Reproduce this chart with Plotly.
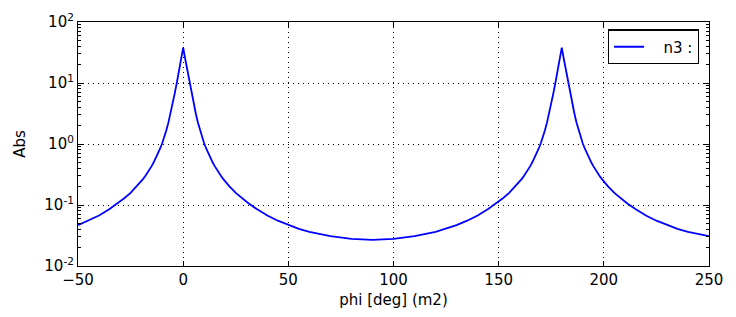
import plotly.graph_objects as go

phi_deg = [-50, -45, -40, -35, -31, -28, -25, -22,
           -20, -19, -18, -17, -16, -15, -14, -13, -12, -11, -10, -9, -8, -7, -6, -5, -4, -3, -2, -1,
           0,
           1, 2, 3, 4, 5, 6, 7, 8, 9, 10, 11, 12, 13, 14, 15, 16, 17, 18, 19, 20,
           22, 25, 28, 31, 35, 40, 45, 50, 55, 60, 70, 80,
           90,
           100, 110, 120, 125, 130, 135, 140, 145, 149, 152, 155, 158,
           160, 161, 162, 163, 164, 165, 166, 167, 168, 169, 170, 171, 172, 173, 174, 175, 176, 177, 178, 179,
           180,
           181, 182, 183, 184, 185, 186, 187, 188, 189, 190, 191, 192, 193, 194, 195, 196, 197, 198, 199, 200,
           202, 205, 208, 211, 215, 220, 225, 230, 235, 240, 250]
abs_n3 = [0.0468, 0.0553, 0.0673, 0.0857, 0.107, 0.129, 0.158, 0.202,
          0.242, 0.268, 0.299, 0.335, 0.379, 0.434, 0.501, 0.586, 0.695, 0.836, 1.02, 1.29, 1.68, 2.26, 3.16, 4.57, 6.76, 10.2, 15.8, 24.5,
          38.0,
          24.5, 15.8, 10.2, 6.76, 4.57, 3.16, 2.26, 1.68, 1.29, 1.02, 0.836, 0.695, 0.586, 0.501, 0.434, 0.379, 0.335, 0.299, 0.268, 0.242,
          0.202, 0.158, 0.129, 0.107, 0.0857, 0.0673, 0.0553, 0.0468, 0.0407, 0.0363, 0.0309, 0.0279,
          0.0269,
          0.0279, 0.0309, 0.0363, 0.0407, 0.0468, 0.0553, 0.0673, 0.0857, 0.107, 0.129, 0.158, 0.202,
          0.242, 0.268, 0.299, 0.335, 0.379, 0.434, 0.501, 0.586, 0.695, 0.836, 1.02, 1.29, 1.68, 2.26, 3.16, 4.57, 6.76, 10.2, 15.8, 24.5,
          38.0,
          24.5, 15.8, 10.2, 6.76, 4.57, 3.16, 2.26, 1.68, 1.29, 1.02, 0.836, 0.695, 0.586, 0.501, 0.434, 0.379, 0.335, 0.299, 0.268, 0.242,
          0.202, 0.158, 0.129, 0.107, 0.0857, 0.0673, 0.0553, 0.0468, 0.0407, 0.0363, 0.0309]

x_ticks = [-50, 0, 50, 100, 150, 200, 250]
x_ticktext = ["\u221250", "0", "50", "100", "150", "200", "250"]
y_ticks = [0.01, 0.1, 1, 10, 100]
y_ticktext = ["10<sup>-2</sup>", "10<sup>-1</sup>", "10<sup>0</sup>", "10<sup>1</sup>", "10<sup>2</sup>"]
y_minor = [m * d for d in [0.01, 0.1, 1, 10] for m in range(2, 10)]

font = "DejaVu Sans"

fig = go.Figure()
fig.add_trace(go.Scatter(x=phi_deg, y=abs_n3, mode="lines", name="\u00a0\u00a0\u00a0n3 :",
                         line=dict(color="#0000ff", width=1.8)))

# page body has an 8px margin: shrink the figure and margins by 8px so the
# plot area lands on the reference pixels
fig.update_layout(
    width=728, height=309,
    margin=dict(l=70, r=27, t=14, b=51),
    paper_bgcolor="white", plot_bgcolor="white",
    font=dict(family=font, size=15, color="black"),
    showlegend=True,
    legend=dict(x=0.984, y=0.97, xanchor="right", yanchor="top",
                bordercolor="black", borderwidth=1.2, bgcolor="white",
                font=dict(family=font, size=15), itemwidth=30,
                tracegroupgap=0),
)
fig.update_xaxes(
    range=[-50, 250], tickvals=x_ticks, ticktext=x_ticktext,
    showline=True, linecolor="black", linewidth=1.2, mirror="allticks",
    ticks="inside", ticklen=5, tickcolor="black",
    showgrid=True, gridcolor="black", gridwidth=1, griddash="1px,4px",
    zeroline=False, automargin=False,
    title=dict(text="phi [deg] (m2)", font=dict(family=font, size=15), standoff=6),
    tickfont=dict(family=font, size=15),
)
fig.update_yaxes(
    type="log", range=[-2, 2], tickvals=y_ticks, ticktext=y_ticktext,
    showline=True, linecolor="black", linewidth=1.2, mirror="allticks",
    ticks="inside", ticklen=5, tickcolor="black",
    minor=dict(tickvals=y_minor, ticks="inside", ticklen=3, tickcolor="black", showgrid=False),
    showgrid=True, gridcolor="black", gridwidth=1, griddash="1px,4px",
    zeroline=False, automargin=False,
    title=dict(text="Abs", font=dict(family=font, size=15), standoff=15),
    tickfont=dict(family=font, size=15),
)

fig.write_html("out.html")
